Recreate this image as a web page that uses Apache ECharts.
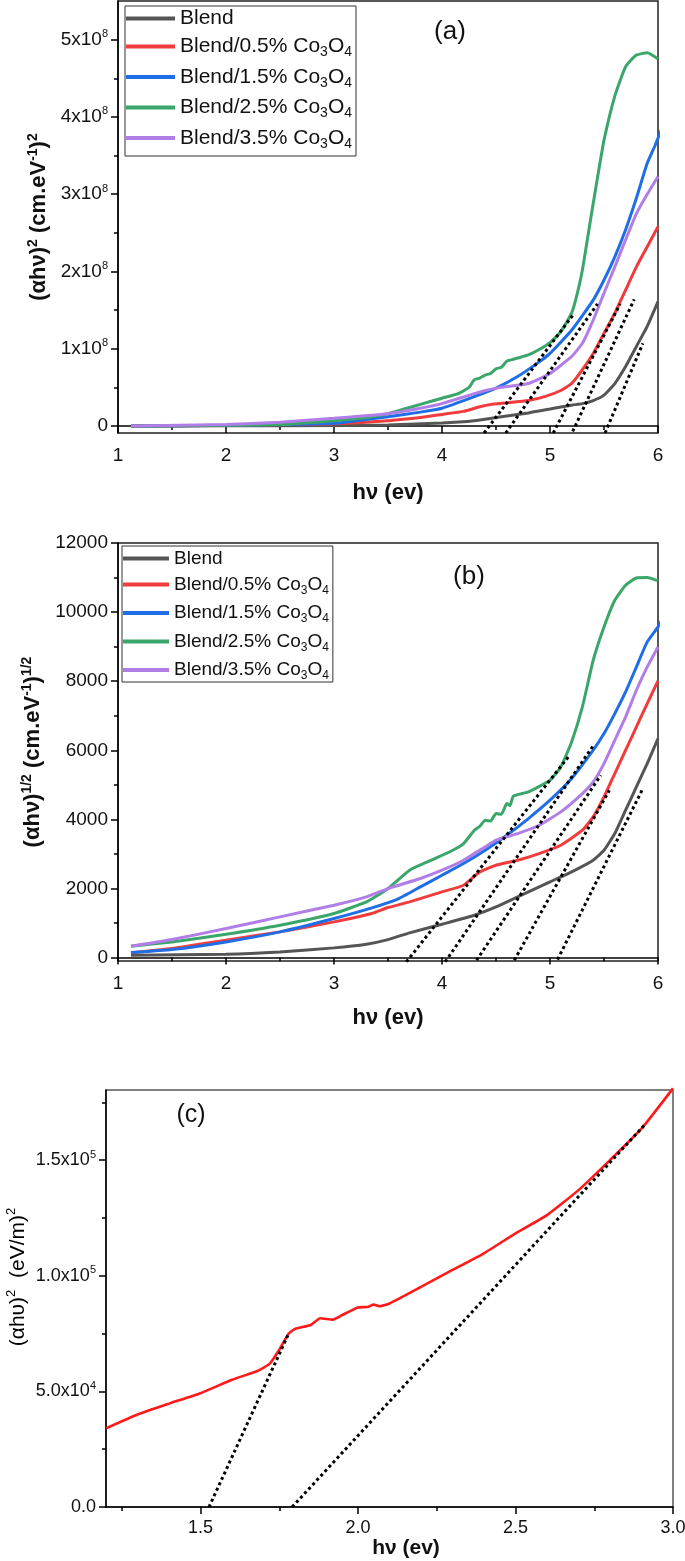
<!DOCTYPE html>
<html>
<head>
<meta charset="utf-8">
<script src="https://cdn.jsdelivr.net/npm/echarts@6/dist/echarts.min.js"></script>
<style>
  html, body { margin: 0; padding: 0; background: #fff; }
  #main { width: 685px; height: 1561px; }
</style>
</head>
<body>
<div id="main"></div>
<script>
// ---- panel (a): (αhν)^2, y values in units of 1e8 ----
var aBlend = [[1.12,0],[2,0.003],[3,0.008],[3.5,0.015],[4,0.04],[4.3,0.07],[4.5,0.11],[4.8,0.17],[5.0,0.22],[5.2,0.27],[5.3,0.29],[5.4,0.33],[5.5,0.40],[5.6,0.55],[5.7,0.77],[5.8,1.03],[5.9,1.29],[6.0,1.61]];
var aCo05 = [[1.12,0],[2,0.01],[2.5,0.02],[3,0.03],[3.5,0.07],[3.8,0.11],[4.0,0.15],[4.2,0.19],[4.35,0.25],[4.45,0.28],[4.6,0.30],[4.8,0.33],[4.95,0.38],[5.1,0.46],[5.2,0.55],[5.3,0.73],[5.4,0.94],[5.5,1.2],[5.6,1.46],[5.7,1.76],[5.8,2.06],[5.9,2.32],[6.0,2.58]];
var aCo15 = [[1.12,0],[2,0.01],[2.5,0.02],[3,0.035],[3.5,0.12],[3.8,0.18],[4.0,0.23],[4.3,0.38],[4.5,0.49],[4.7,0.64],[4.9,0.83],[5.0,0.94],[5.2,1.24],[5.4,1.63],[5.5,1.89],[5.6,2.19],[5.7,2.54],[5.8,2.95],[5.9,3.4],[5.97,3.62],[6.06,3.94]];
var aCo25 = [[1.12,0],[2,0.01],[2.5,0.02],[3,0.07],[3.3,0.11],[3.5,0.16],[3.65,0.22],[3.8,0.28],[4.0,0.36],[4.15,0.42],[4.25,0.5],[4.3,0.6],[4.35,0.62],[4.4,0.66],[4.45,0.68],[4.5,0.74],[4.55,0.76],[4.6,0.84],[4.65,0.86],[4.7,0.88],[4.8,0.92],[4.9,0.99],[5.0,1.08],[5.1,1.22],[5.2,1.46],[5.25,1.7],[5.3,2.02],[5.35,2.45],[5.4,2.88],[5.45,3.3],[5.5,3.7],[5.6,4.27],[5.7,4.65],[5.8,4.8],[5.9,4.83],[6.0,4.75]];
var aCo35 = [[1.12,0],[2,0.02],[2.5,0.05],[3,0.10],[3.5,0.16],[3.8,0.23],[4.0,0.29],[4.3,0.42],[4.5,0.49],[4.8,0.55],[5.0,0.68],[5.2,0.9],[5.3,1.07],[5.4,1.37],[5.5,1.72],[5.6,2.06],[5.7,2.41],[5.8,2.75],[5.9,3.0],[6.0,3.23]];
var aFits = [
  [[4.39,-0.09],[5.22,1.45]],
  [[4.59,-0.09],[5.44,1.58]],
  [[5.03,-0.09],[5.65,1.58]],
  [[5.21,-0.07],[5.78,1.64]],
  [[5.51,-0.09],[5.86,1.07]]
];
var aTicks = [0, 1, 2, 3, 4, 5];
var aMinor = [0.5, 1.5, 2.5, 3.5, 4.5];

// ---- panel (b): (αhν)^1/2 ----
var bBlend = [[1.12,68],[2,96],[2.5,164],[3,280],[3.3,386],[3.5,520],[3.7,714],[4.0,965],[4.3,1225],[4.5,1466],[4.7,1756],[5.0,2190],[5.2,2480],[5.4,2817],[5.5,3107],[5.6,3589],[5.7,4264],[5.8,4940],[5.9,5615],[6.0,6339]];
var bCo05 = [[1.12,135],[1.5,260],[2,502],[2.5,743],[3,1032],[3.35,1274],[3.5,1447],[3.7,1611],[4.0,1900],[4.2,2094],[4.35,2480],[4.5,2672],[4.7,2817],[4.9,3010],[5.1,3251],[5.3,3685],[5.4,4071],[5.5,4650],[5.6,5326],[5.7,6001],[5.8,6676],[5.9,7352],[6.0,8008]];
var bCo15 = [[1.12,145],[1.5,232],[2,453],[2.5,743],[3,1129],[3.35,1437],[3.6,1707],[3.8,2045],[4.0,2383],[4.2,2721],[4.4,3107],[4.6,3541],[4.8,4023],[5.0,4554],[5.2,5181],[5.4,6001],[5.5,6483],[5.6,7062],[5.7,7689],[5.8,8413],[5.9,9137],[6.0,9571],[6.06,9937]];
var bCo25 = [[1.12,328],[1.5,453],[2,675],[2.5,936],[3,1274],[3.3,1611],[3.5,1997],[3.7,2528],[3.9,2817],[4.1,3107],[4.2,3300],[4.3,3685],[4.35,3800],[4.4,3975],[4.45,3950],[4.5,4168],[4.55,4150],[4.6,4457],[4.63,4400],[4.66,4670],[4.8,4795],[5.0,5133],[5.1,5519],[5.2,6242],[5.3,7255],[5.4,8606],[5.5,9571],[5.6,10343],[5.7,10777],[5.8,10989],[5.9,10999],[6.0,10902]];
var bCo35 = [[1.12,328],[1.5,521],[2,839],[2.5,1177],[3,1515],[3.3,1756],[3.5,1997],[3.8,2287],[4.0,2528],[4.2,2817],[4.4,3203],[4.5,3396],[4.7,3589],[4.9,3830],[5.1,4216],[5.3,4747],[5.4,5084],[5.5,5615],[5.6,6290],[5.7,6966],[5.8,7738],[5.9,8413],[6.0,8992]];
var bFits = [
  [[3.67,-125],[5.17,5808]],
  [[4.03,-125],[5.41,6175]],
  [[4.32,-77],[5.47,5277]],
  [[4.67,-77],[5.55,4843]],
  [[5.07,-58],[5.86,4892]]
];
var bTicks = [0, 2000, 4000, 6000, 8000, 10000, 12000];
var bMinor = [1000, 3000, 5000, 7000, 9000, 11000];

// ---- panel (c): (αhυ)^2 ----
var cCurve = [[1.2,34000],[1.3,40000],[1.4,44700],[1.5,49200],[1.6,55000],[1.68,58800],[1.72,62000],[1.75,68000],[1.78,75000],[1.8,77000],[1.85,78700],[1.88,81600],[1.92,81000],[1.95,83000],[2.0,86300],[2.03,86500],[2.05,87500],[2.07,86800],[2.1,88000],[2.2,95200],[2.3,102500],[2.4,109700],[2.5,118300],[2.6,126200],[2.7,137000],[2.8,150000],[2.9,163600],[3.0,181000]];
var cFits = [
  [[1.527,0],[1.78,75000]],
  [[1.791,0],[2.914,165800]]
];
var cXTicks = [1.5, 2.0, 2.5, 3.0];
var cXMinor = [1.25, 1.75, 2.25, 2.75];
var cYTicks = [0, 50000, 100000, 150000];
var cYMinor = [25000, 75000, 125000, 175000];

var names = ['Blend', 'Blend/0.5% Co3O4', 'Blend/1.5% Co3O4', 'Blend/2.5% Co3O4', 'Blend/3.5% Co3O4'];
var colors = ['#555555', '#f03c3c', '#1f6ee6', '#3aa66a', '#b07ee6'];

var FONT = 'Liberation Sans, Arial, sans-serif';
var FONTC = 'Liberation Sans Narrow, Liberation Sans, Arial, sans-serif';

var chart = echarts.init(document.getElementById('main'));

function legendFmt(name) {
  if (name === 'Blend') return '{b0|Blend}';
  return '{n|' + name.replace('Co3O4', 'Co') + '}{sub|3}{n|O}{sub|4}';
}
function legendRich(fs, lh, lh0) {
  return {
    b0: { fontSize: fs, fontFamily: FONT, color: '#111', lineHeight: lh0 },
    n: { fontSize: fs, fontFamily: FONT, color: '#111', lineHeight: lh },
    sub: { fontSize: Math.round(fs * 0.65), fontFamily: FONT, color: '#111', lineHeight: 12, verticalAlign: 'bottom' }
  };
}
var supRich = {
  m: { fontSize: 19, fontFamily: FONT, color: '#111', lineHeight: 22 },
  s: { fontSize: 11, fontFamily: FONT, color: '#111', lineHeight: 10, verticalAlign: 'top' }
};
var supRichC = {
  m: { fontSize: 18, fontFamily: FONTC, color: '#111', lineHeight: 22 },
  s: { fontSize: 11, fontFamily: FONTC, color: '#111', lineHeight: 10, verticalAlign: 'top' }
};
function nameRich(fam, weight, fs) {
  return {
    t: { fontSize: fs, fontFamily: fam, fontWeight: weight, color: '#111', lineHeight: 26 },
    s: { fontSize: Math.round(fs * 0.64), fontFamily: fam, fontWeight: weight, color: '#111', lineHeight: 12, verticalAlign: 'top' }
  };
}

var line = { color: '#000', width: 1.5 };
var axisNameX = { fontSize: 22, fontWeight: 'bold', fontFamily: FONT, color: '#111' };

function majorY(grid, min, max, ticks, fmt, rich, name, gap, nameStyle) {
  return {
    type: 'value', gridIndex: grid, position: 'left', min: min, max: max,
    axisLine: { show: true, lineStyle: line },
    axisTick: { show: true, length: 7, customValues: ticks, lineStyle: line },
    axisLabel: { customValues: ticks, margin: 10, formatter: fmt, rich: rich },
    splitLine: { show: false },
    name: name, nameLocation: 'middle', nameGap: gap, nameTextStyle: nameStyle
  };
}
function minorY(grid, min, max, ticks) {
  return {
    type: 'value', gridIndex: grid, position: 'left', min: min, max: max,
    axisLine: { show: false },
    axisTick: { show: true, length: 4, customValues: ticks, lineStyle: line },
    axisLabel: { show: false },
    splitLine: { show: false }
  };
}
function mainX(grid, gap) {
  return {
    type: 'value', gridIndex: grid, position: 'bottom', min: 1, max: 6, interval: 1,
    axisLine: { show: true, lineStyle: line },
    axisTick: { show: true, length: 7, lineStyle: line },
    minorTick: { show: true, splitNumber: 2, length: 4, lineStyle: line },
    axisLabel: { margin: 13, fontSize: 19, fontFamily: FONT, color: '#111' },
    splitLine: { show: false },
    name: 'hν (ev)', nameLocation: 'middle', nameGap: gap, nameTextStyle: axisNameX
  };
}

var series = [];
function addPanel(lists, fits, xi, yi) {
  lists.forEach(function (d, i) {
    series.push({
      name: names[i], type: 'line', xAxisIndex: xi, yAxisIndex: yi, data: d,
      showSymbol: false, smooth: 0.15, clip: false,
      lineStyle: { color: colors[i], width: 3 }, itemStyle: { color: colors[i] }
    });
  });
  fits.forEach(function (d) {
    series.push({
      type: 'line', xAxisIndex: xi, yAxisIndex: yi, data: d, showSymbol: false, silent: true,
      z: 5, lineStyle: { color: '#000', width: 3, type: 'dotted' }
    });
  });
}
addPanel([aBlend, aCo05, aCo15, aCo25, aCo35], aFits, 0, 0);
addPanel([bBlend, bCo05, bCo15, bCo25, bCo35], bFits, 1, 2);
series.push({
  name: 'c', type: 'line', xAxisIndex: 2, yAxisIndex: 4, data: cCurve, showSymbol: false,
  smooth: 0.15, clip: false, lineStyle: { color: '#ff1a1a', width: 2.6 }
});
cFits.forEach(function (d) {
  series.push({
    type: 'line', xAxisIndex: 2, yAxisIndex: 4, data: d, showSymbol: false, silent: true,
    z: 5, lineStyle: { color: '#000', width: 3, type: 'dotted' }
  });
});

var option = {
  animation: false,
  backgroundColor: '#fff',
  grid: [
    { left: 118, right: 27, top: 1, height: 432, show: true, borderColor: '#222', borderWidth: 1.5, outerBoundsMode: 'none' },
    { left: 118, right: 27, top: 543, height: 418, show: true, borderColor: '#222', borderWidth: 1.5, outerBoundsMode: 'none' },
    { left: 106, right: 12, top: 1090, height: 417, show: true, borderColor: '#555', borderWidth: 1.5, outerBoundsMode: 'none' }
  ],
  legend: [
    {
      data: names, orient: 'vertical', left: 125, top: 6, icon: 'rect', itemWidth: 49, itemHeight: 4,
      itemGap: 7, padding: [2, 4, 5, 1], borderColor: '#333', borderWidth: 1,
      formatter: legendFmt, textStyle: { rich: legendRich(21, 26, 10) }, selectedMode: false
    },
    {
      data: names, orient: 'vertical', left: 122, top: 546, icon: 'rect', itemWidth: 46, itemHeight: 4,
      itemGap: 7, padding: [3, 4, 0, 1], borderColor: '#333', borderWidth: 1,
      formatter: legendFmt, textStyle: { rich: legendRich(19, 24, 11) }, selectedMode: false
    }
  ],
  xAxis: [
    mainX(0, 49),
    mainX(1, 46),
    {
      type: 'value', gridIndex: 2, position: 'bottom', min: 1.2, max: 3.0,
      axisLine: { show: true, lineStyle: line },
      axisTick: { show: true, length: 7, customValues: cXTicks, lineStyle: line },
      axisLabel: { customValues: cXTicks, margin: 12, fontSize: 18, fontFamily: FONTC, color: '#111',
        formatter: function (v) { return v.toFixed(1); } },
      splitLine: { show: false },
      name: 'hν (ev)', nameLocation: 'middle', nameGap: 31,
      nameTextStyle: { fontSize: 21, fontWeight: 'bold', fontFamily: FONTC, color: '#111', padding: [0, 0, 0, 33] }
    },
    {
      type: 'value', gridIndex: 2, position: 'bottom', min: 1.2, max: 3.0,
      axisLine: { show: false },
      axisTick: { show: true, length: 4, customValues: cXMinor, lineStyle: line },
      axisLabel: { show: false }, splitLine: { show: false }
    }
  ],
  yAxis: [
    majorY(0, -0.09, 5.5, aTicks,
      function (v) { return v === 0 ? '{m|0}' : '{m|' + v + 'x10}{s|8}'; }, supRich,
      '{t|(αhν)}{s|2}{t| (cm.eV}{s|-1}{t|)}{s|2}', 63,
      { rich: nameRich(FONT, 'bold', 22) }),
    minorY(0, -0.09, 5.5, aMinor),
    majorY(1, -100, 12000, bTicks,
      function (v) { return '{m|' + v + '}'; }, supRich,
      '{t|(αhν)}{s|1/2}{t| (cm.eV}{s|-1}{t|)}{s|1/2}', 68,
      { rich: nameRich(FONT, 'bold', 22) }),
    minorY(1, -100, 12000, bMinor),
    majorY(2, 0, 180300, cYTicks,
      function (v) {
        if (v === 0) return '{m|0.0}';
        var e = Math.floor(Math.log10(v));
        return '{m|' + (v / Math.pow(10, e)).toFixed(1) + 'x10}{s|' + e + '}';
      }, supRichC, '', 70, {}),
    minorY(2, 0, 180300, cYMinor)
  ],
  graphic: [
    { type: 'text', x: 450, y: 32, style: { text: '(a)', fontSize: 26, fontFamily: FONT, fill: '#111', align: 'center', verticalAlign: 'middle' } },
    { type: 'text', x: 469, y: 577, style: { text: '(b)', fontSize: 26, fontFamily: FONT, fill: '#111', align: 'center', verticalAlign: 'middle' } },
    { type: 'text', x: 191, y: 1115, style: { text: '(c)', fontSize: 25, fontFamily: FONTC, fill: '#111', align: 'center', verticalAlign: 'middle' } },
    { type: 'text', x: 18, y: 1277, rotation: Math.PI / 2,
      style: { text: '{t|(αhυ)}{s|2}{t|  (eV/m)}{s|2}', rich: nameRich(FONTC, 'normal', 21), align: 'center', verticalAlign: 'middle' } }
  ],
  series: series
};
chart.setOption(option);
</script>
</body>
</html>
